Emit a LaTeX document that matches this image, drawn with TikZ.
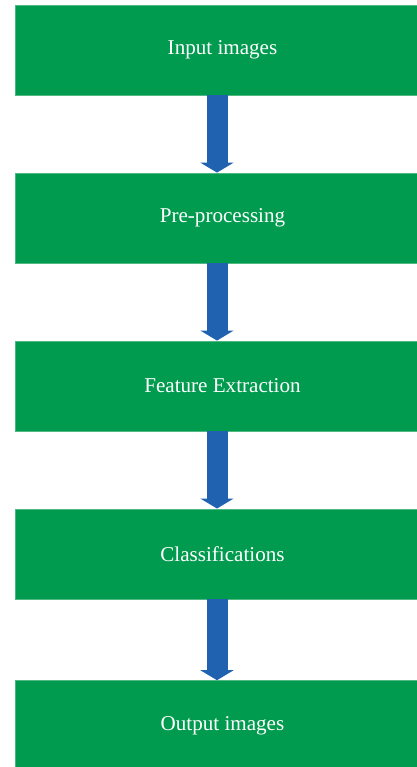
\documentclass[tikz,border=0pt]{standalone}
\usepackage{fontspec}
\setmainfont{Liberation Serif}
\usetikzlibrary{positioning,arrows.meta}

\definecolor{boxgreen}{RGB}{0,155,78}
\definecolor{flowblue}{RGB}{33,98,176}

\begin{document}
\begin{tikzpicture}
[
	stage/.style={rectangle,fill=boxgreen,draw=boxgreen!70!white,minimum width=8.3cm,minimum height=1.8cm,text=white,font=\fontsize{12}{14}\selectfont},
	flow/.style={flowblue,line width=0.42cm,-{Triangle[width=0.66cm,length=0.2cm]}},
	node distance=1.545cm
]

	\useasboundingbox (-4.45,1.0) rectangle (3.87,-14.34);

	% stages
	\node[stage] (input) at (0,0) {Input images};
	\node[stage,below=of input] (preproc) {Pre-processing};
	\node[stage,below=of preproc] (feature) {Feature Extraction};
	\node[stage,below=of feature] (classify) {Classifications};
	\node[stage,below=1.62cm of classify] (output) {Output images};

	% arrows
	\draw[flow] ([xshift=-1.1mm]input.south) -- ([xshift=-1.1mm]preproc.north);
	\draw[flow] ([xshift=-1.1mm]preproc.south) -- ([xshift=-1.1mm]feature.north);
	\draw[flow] ([xshift=-1.1mm]feature.south) -- ([xshift=-1.1mm]classify.north);
	\draw[flow] ([xshift=-1.1mm]classify.south) -- ([xshift=-1.1mm]output.north);

\end{tikzpicture}
\end{document}
